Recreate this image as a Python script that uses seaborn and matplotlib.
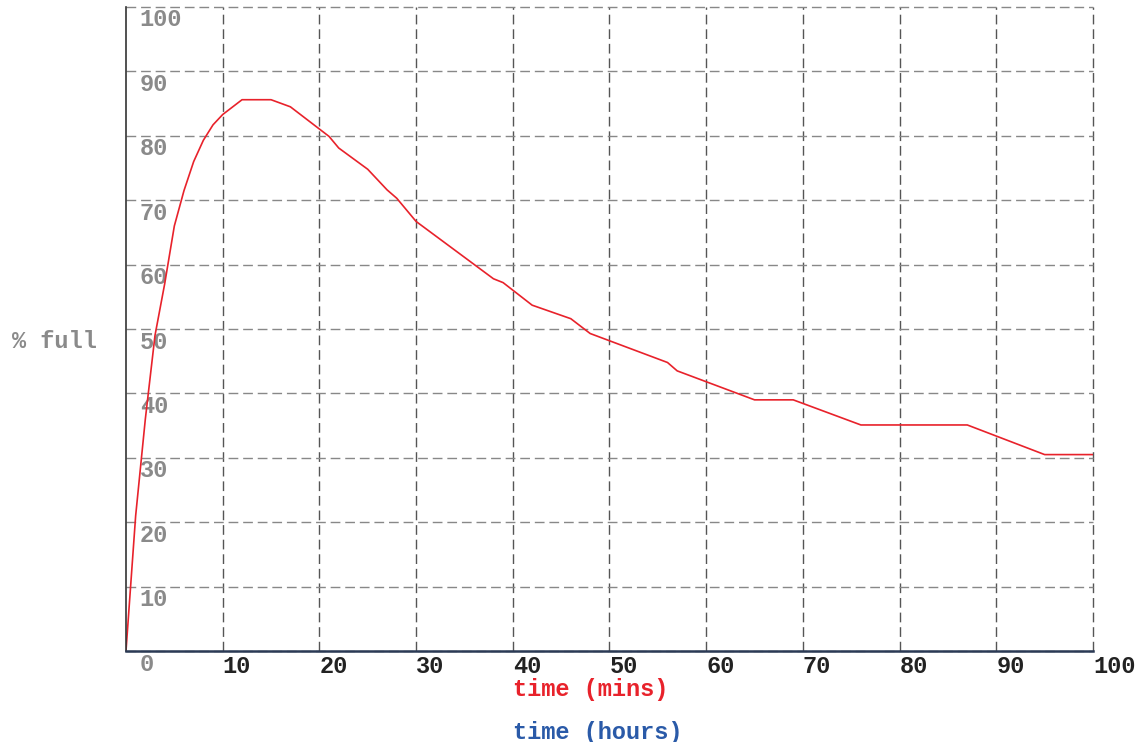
import matplotlib
matplotlib.use("Agg")
import matplotlib.pyplot as plt
import matplotlib.transforms as mtransforms
import pandas as pd
import seaborn as sns

# data
time_mins = [0, 1, 2, 3, 4, 5, 6, 7, 8, 9, 10, 12, 15, 17, 21, 22, 25, 27, 28, 30,
             38, 39, 42, 46, 48, 56, 57, 65, 69, 76, 87, 95, 100]
pct_full = [0, 21, 36, 49, 57, 66, 71.5, 76, 79.3, 81.7, 83.3, 85.6, 85.6, 84.5, 79.9, 78.1,
            74.8, 71.6, 70.3, 66.7, 57.8, 57.2, 53.7, 51.6, 49.3, 44.8, 43.5, 39.0, 39.0,
            35.1, 35.1, 30.5, 30.5]
x_ticks = [10, 20, 30, 40, 50, 60, 70, 80, 90, 100]
y_ticks = [0, 10, 20, 30, 40, 50, 60, 70, 80, 90, 100]

df = pd.DataFrame({"time": time_mins, "full": pct_full})

sns.set_style("white")
plt.rcParams["font.family"] = ["Liberation Mono", "DejaVu Sans Mono"]
plt.rcParams["font.weight"] = "bold"
fs = 17

fig = plt.figure(figsize=(11.35, 7.42), dpi=100)
ax = fig.add_axes([0.111, 0.1226, 0.852, 0.868])

sns.lineplot(data=df, x="time", y="full", ax=ax, color="#e8222b", linewidth=1.2,
             sort=False, estimator=None)

ax.set_xlim(0, 100)
ax.set_ylim(0, 100)
ax.set_xticks(x_ticks)
ax.set_yticks(y_ticks)
ax.set_xticklabels([str(t) for t in x_ticks], ha="left", fontsize=fs,
                   fontweight="bold", color="#222222")
ax.set_yticklabels([str(t) for t in y_ticks], ha="left", fontsize=fs,
                   fontweight="bold", color="#8a8a8a")
ax.tick_params(axis="both", length=0)
ax.tick_params(axis="x", pad=3)
ax.tick_params(axis="y", pad=-10)

# push y labels below their gridline
shift = mtransforms.ScaledTranslation(0, -13 / 100, fig.dpi_scale_trans)
for lab in ax.get_yticklabels():
    lab.set_transform(lab.get_transform() + shift)
    lab.set_verticalalignment("center")

# dashed grid, vertical darker than horizontal
ax.xaxis.grid(True, color="#555555", linestyle=(0, (7, 3.5)), linewidth=1.0)
ax.yaxis.grid(True, color="#888888", linestyle=(0, (7, 3.5)), linewidth=1.0)
ax.set_axisbelow(True)
for gl in ax.get_xgridlines() + ax.get_ygridlines():
    gl.set_clip_on(False)

ax.spines["top"].set_visible(False)
ax.spines["right"].set_visible(False)
ax.spines["left"].set_color("#333333")
ax.spines["left"].set_linewidth(1.2)
ax.spines["bottom"].set_color("#2b3a55")
ax.spines["bottom"].set_linewidth(1.8)

ax.set_ylabel("% full", rotation=0, fontsize=fs, fontweight="bold", color="#8a8a8a",
              va="center", ha="center")
ax.yaxis.set_label_coords(-0.074, 0.48)
ax.set_xlabel("time (mins)", fontsize=fs, fontweight="bold", color="#e8222b", va="center")
ax.xaxis.set_label_coords(0.481, -0.059)
ax.text(0.488, -0.126, "time (hours)", transform=ax.transAxes, ha="center", va="center",
        fontsize=fs, fontweight="bold", color="#2a5aa8")

fig.savefig("out.png", dpi=100)
